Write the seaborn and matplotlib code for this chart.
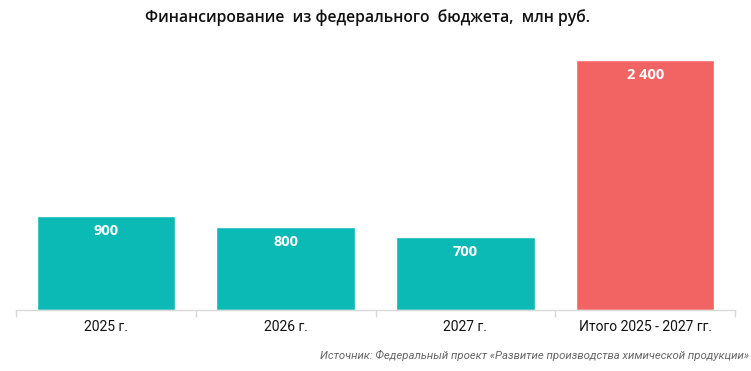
import matplotlib
matplotlib.use('Agg')
import matplotlib.pyplot as plt
import seaborn as sns
import numpy as np
import pandas as pd

categories = ['2025 г.', '2026 г.', '2027 г.', 'Итого 2025 - 2027 гг.']
values = [900, 800, 700, 2400]
value_labels = ['900', '800', '700', '2 400']
colors = ['#0BBAB5', '#0BBAB5', '#0BBAB5', '#F26464']

sns.set_theme(style='white')
plt.rcParams['font.family'] = ['Roboto', 'DejaVu Sans']

df = pd.DataFrame({'cat': categories, 'val': values})

fig = plt.figure(figsize=(7.51, 3.71), dpi=100)
ax = fig.add_axes([16 / 751, 61 / 371, 719 / 751, 250 / 371])
sns.barplot(data=df, x='cat', y='val', hue='cat', palette=colors, legend=False,
            width=0.77, saturation=1, ax=ax)

ax.set_ylim(0, 2400)
ax.set_xlim(-0.5, 3.5)
ax.set_xlabel('')
ax.set_ylabel('')
ax.set_yticks([])
for s in ['top', 'right', 'left']:
    ax.spines[s].set_visible(False)
ax.spines['bottom'].set_color('#D9D9D9')
ax.spines['bottom'].set_linewidth(1)

ax.set_xticks(range(len(categories)))
ax.set_xticklabels(categories, fontsize=10, color='#111111')
ax.tick_params(axis='x', which='major', length=0, pad=7)
ax.set_xticks(np.arange(-0.5, 4, 1), minor=True)
ax.tick_params(axis='x', which='minor', bottom=True, length=5, color='#D9D9D9', width=1)

for i, (v, lab) in enumerate(zip(values, value_labels)):
    ax.text(i, v - 145, lab, ha='center', va='center', color='white',
            fontsize=10.5, fontweight='bold', family=['Open Sans', 'DejaVu Sans'])

fig.text(0.49, 0.953, 'Финансирование  из федерального  бюджета,  млн руб.',
         ha='center', va='center', fontsize=11.3, fontweight='semibold',
         family=['Open Sans', 'DejaVu Sans'], color='#111111')
fig.text(0.997, 0.043, 'Источник: Федеральный проект «Развитие производства химической продукции»',
         ha='right', va='center', fontsize=8.2, style='italic', color='#666666')

fig.savefig('out.png', dpi=100)
